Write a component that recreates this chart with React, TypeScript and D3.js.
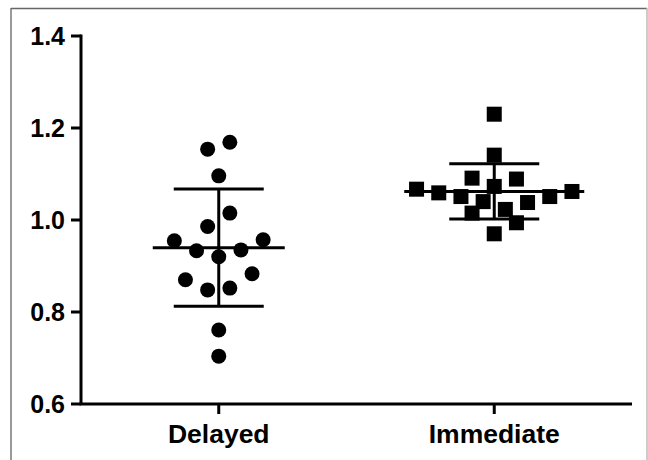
import React, { useEffect, useRef } from 'react';
import * as d3 from 'd3';

const categories = ['Delayed', 'Immediate'];
const delayedValues = [1.154, 1.169, 1.096, 1.015, 0.986, 0.955, 0.957, 0.933, 0.935, 0.920, 0.870, 0.883, 0.848, 0.852, 0.761, 0.704];
const immediateValues = [1.230, 1.141, 1.091, 1.089, 1.067, 1.059, 1.073, 1.051, 1.040, 1.038, 1.051, 1.062, 1.015, 1.023, 0.994, 0.970];
// swarm slot of each point (left/right of the column centre)
const delayedSlots = [-1, 1, 0, 1, -1, -4, 4, -2, 2, 0, -3, 3, -1, 1, 0, 0];
const immediateSlots = [0, 0, -2, 2, -7, -5, 0, -3, -1, 3, 5, 7, -2, 1, 2, 0];
const yTicks = [0.6, 0.8, 1.0, 1.2, 1.4];

const W = 648;
const H = 460;
const FONT = '"Liberation Sans", Arial, sans-serif';

const App = () => {
  const node = useRef<SVGSVGElement>(null);

  useEffect(() => {
    const svg = d3.select(node.current);
    svg.selectAll('*').remove();

    const x = d3.scalePoint().domain(categories).range([81, 632]).padding(0.5);
    const y = d3.scaleLinear().domain([0.6, 1.4]).range([404, 36]);
    const slotW = 11.1;

    // frame
    svg.append('line').attr('x1', 11).attr('x2', 11).attr('y1', 8).attr('y2', H)
      .attr('stroke', '#777').attr('stroke-width', 1.5);
    svg.append('line').attr('x1', 11).attr('x2', 647).attr('y1', 8.5).attr('y2', 8.5)
      .attr('stroke', '#666').attr('stroke-width', 1.5);
    svg.append('line').attr('x1', 647).attr('x2', 647).attr('y1', 8).attr('y2', H)
      .attr('stroke', '#bbb').attr('stroke-width', 1.5);

    // y axis
    const gy = svg.append('g');
    gy.append('line').attr('x1', 81).attr('x2', 81).attr('y1', y(1.4) - 1.5).attr('y2', y(0.6))
      .attr('stroke', '#000').attr('stroke-width', 3);
    gy.selectAll('line.tick').data(yTicks).join('line')
      .attr('class', 'tick')
      .attr('x1', 71).attr('x2', 81)
      .attr('y1', d => y(d)).attr('y2', d => y(d))
      .attr('stroke', '#000').attr('stroke-width', 3);
    gy.selectAll('text').data(yTicks).join('text')
      .attr('x', 65).attr('y', d => y(d)).attr('dy', '0.36em')
      .attr('text-anchor', 'end')
      .attr('font-family', FONT).attr('font-weight', 'bold').attr('font-size', 25)
      .text(d => d3.format('.1f')(d));

    // x axis
    const gx = svg.append('g');
    gx.append('line').attr('x1', 79.5).attr('x2', 632).attr('y1', 404).attr('y2', 404)
      .attr('stroke', '#000').attr('stroke-width', 3);
    gx.selectAll('line.tick').data(categories).join('line')
      .attr('class', 'tick')
      .attr('x1', d => x(d)).attr('x2', d => x(d))
      .attr('y1', 404).attr('y2', 414)
      .attr('stroke', '#000').attr('stroke-width', 3);
    gx.selectAll('text').data(categories).join('text')
      .attr('x', d => x(d)).attr('y', 443)
      .attr('text-anchor', 'middle')
      .attr('font-family', FONT).attr('font-weight', 'bold').attr('font-size', 26.5)
      .text(d => d);

    const groups = [
      { name: 'Delayed', values: delayedValues, slots: delayedSlots, shape: 'circle', meanHalf: 66 },
      { name: 'Immediate', values: immediateValues, slots: immediateSlots, shape: 'square', meanHalf: 90 },
    ];

    groups.forEach(g => {
      const cx = x(g.name) as number;
      const m = d3.mean(g.values) as number;
      const sd = d3.deviation(g.values) as number;
      const pts = g.values.map((v, i) => ({ v, s: g.slots[i] }));
      const layer = svg.append('g');

      if (g.shape === 'circle') {
        layer.selectAll('circle').data(pts).join('circle')
          .attr('cx', d => cx + d.s * slotW)
          .attr('cy', d => y(d.v))
          .attr('r', 7.5)
          .attr('fill', '#000');
      } else {
        layer.selectAll('rect').data(pts).join('rect')
          .attr('x', d => cx + d.s * slotW - 7.5)
          .attr('y', d => y(d.v) - 7.5)
          .attr('width', 15).attr('height', 15)
          .attr('fill', '#000');
      }

      const bars = svg.append('g').attr('stroke', '#000').attr('stroke-width', 3);
      bars.append('line').attr('x1', cx - g.meanHalf).attr('x2', cx + g.meanHalf)
        .attr('y1', y(m)).attr('y2', y(m));
      bars.append('line').attr('x1', cx).attr('x2', cx)
        .attr('y1', y(m + sd)).attr('y2', y(m - sd));
      [m + sd, m - sd].forEach(v => {
        bars.append('line').attr('x1', cx - 45).attr('x2', cx + 45)
          .attr('y1', y(v)).attr('y2', y(v));
      });
    });
  }, []);

  return (
    <div style={{ position: 'fixed', left: 0, top: 0, background: '#fff' }}>
      <svg ref={node} width={W} height={H} style={{ display: 'block' }} />
    </div>
  );
};

export default App;
